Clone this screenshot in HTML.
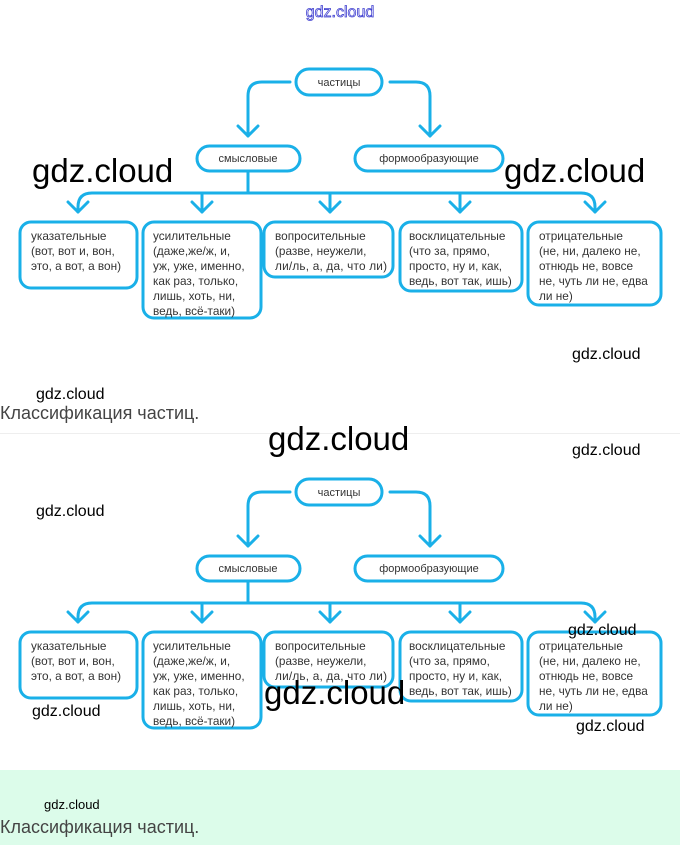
<!DOCTYPE html>
<html><head><meta charset="utf-8">
<style>
html,body{margin:0;padding:0;background:#fff;}
body{width:680px;height:845px;position:relative;overflow:hidden;font-family:"Liberation Sans",sans-serif;}
.wm{position:absolute;font-family:"Liberation Sans",sans-serif;color:#000;white-space:nowrap;}
.cap{position:absolute;left:0;font-size:18px;color:#444;white-space:nowrap;}
</style></head><body>
<div style="position:absolute;left:0;top:770px;width:680px;height:75px;background:#dcfcea"></div>
<div style="position:absolute;left:0;top:433px;width:680px;height:1px;background:#eee"></div>
<svg width="680" height="845" style="position:absolute;left:0;top:0">
<defs>
<g id="d">
 <g fill="none" stroke="#1ab0e8" stroke-width="3" stroke-linecap="round" stroke-linejoin="round">
  <rect x="296" y="69" width="86" height="26" rx="13"/>
  <rect x="197" y="146" width="103" height="25" rx="12.5"/>
  <rect x="355" y="146" width="148" height="25" rx="12.5"/>
  <path d="M290 82 H262 Q248 82 248 96 V136"/>
  <path d="M238 126 L248 136 L258 126"/>
  <path d="M390 82 H416 Q430 82 430 96 V136"/>
  <path d="M420 126 L430 136 L440 126"/>
  <path d="M248 171 V193"/>
  <path d="M78 212 V207 Q78 193 92 193 H581 Q595 193 595 207 V212"/>
  <path d="M202 193 V212 M330 193 V212 M460 193 V212"/>
  <path d="M68 202 L78 212 L88 202 M192 202 L202 212 L212 202 M320 202 L330 212 L340 202 M450 202 L460 212 L470 202 M585 202 L595 212 L605 202"/>
  <rect x="20" y="222" width="117" height="66" rx="11"/>
  <rect x="143" y="222" width="118" height="96" rx="11"/>
  <rect x="264" y="222" width="129" height="55" rx="11"/>
  <rect x="400" y="222" width="122" height="69" rx="11"/>
  <rect x="528" y="222" width="133" height="83" rx="11"/>
 </g>
 <g font-family="Liberation Sans, sans-serif" font-size="11.8" fill="#333">
  <text x="339" y="86" text-anchor="middle" font-size="11">частицы</text>
  <text x="248" y="162" text-anchor="middle" font-size="11">смысловые</text>
  <text x="429" y="162" text-anchor="middle" font-size="11">формообразующие</text>
  <text x="31" y="240">указательные</text>
  <text x="31" y="255">(вот, вот и, вон,</text>
  <text x="31" y="270">это, а вот, а вон)</text>
  <text x="153" y="240">усилительные</text>
  <text x="153" y="255">(даже,же/ж, и,</text>
  <text x="153" y="270">уж, уже, именно,</text>
  <text x="153" y="285">как раз, только,</text>
  <text x="153" y="300">лишь, хоть, ни,</text>
  <text x="153" y="315">ведь, всё-таки)</text>
  <text x="275" y="240">вопросительные</text>
  <text x="275" y="255">(разве, неужели,</text>
  <text x="275" y="270" textLength="112">ли/ль, а, да, что ли)</text>
  <text x="409" y="240">восклицательные</text>
  <text x="409" y="255">(что за, прямо,</text>
  <text x="409" y="270">просто, ну и, как,</text>
  <text x="409" y="285">ведь, вот так, ишь)</text>
  <text x="539" y="240">отрицательные</text>
  <text x="539" y="255">(не, ни, далеко не,</text>
  <text x="539" y="270">отнюдь не, вовсе</text>
  <text x="539" y="285">не, чуть ли не, едва</text>
  <text x="539" y="300">ли не)</text>
 </g>
</g>
</defs>
<use href="#d"/>
<use href="#d" transform="translate(0,410)"/>
<text x="340" y="17" text-anchor="middle" font-family="Liberation Sans, sans-serif" font-size="16" fill="#fff" stroke="#4040d0" stroke-width="0.8">gdz.cloud</text>
</svg>
<div class="wm" style="left:32px;top:152px;font-size:33px">gdz.cloud</div>
<div class="wm" style="left:504px;top:152px;font-size:33px">gdz.cloud</div>
<div class="wm" style="left:572px;top:346px;font-size:16px">gdz.cloud</div>
<div class="wm" style="left:36px;top:386px;font-size:16px">gdz.cloud</div>
<div class="cap" style="top:403px">Классификация частиц.</div>
<div class="wm" style="left:268px;top:420px;font-size:33px">gdz.cloud</div>
<div class="wm" style="left:572px;top:442px;font-size:16px">gdz.cloud</div>
<div class="wm" style="left:36px;top:503px;font-size:16px">gdz.cloud</div>
<div class="wm" style="left:568px;top:622px;font-size:16px">gdz.cloud</div>
<div class="wm" style="left:264px;top:674px;font-size:33px">gdz.cloud</div>
<div class="wm" style="left:32px;top:703px;font-size:16px">gdz.cloud</div>
<div class="wm" style="left:576px;top:718px;font-size:16px">gdz.cloud</div>
<div class="wm" style="left:44px;top:797px;font-size:13px">gdz.cloud</div>
<div class="cap" style="top:817px">Классификация частиц.</div>
</body></html>
